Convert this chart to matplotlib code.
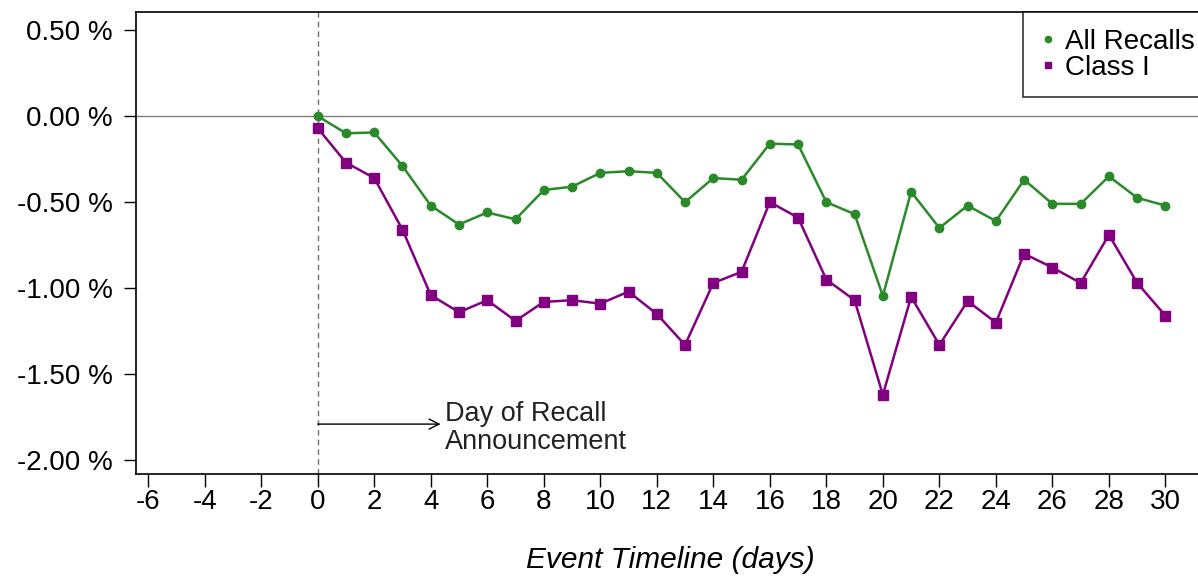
import matplotlib.pyplot as plt
from matplotlib.ticker import FuncFormatter

# data
days = list(range(0, 31))
all_recalls = [0.00, -0.10, -0.095, -0.29, -0.52, -0.63, -0.56, -0.60, -0.43, -0.41,
               -0.33, -0.32, -0.33, -0.50, -0.36, -0.37, -0.16, -0.165, -0.50, -0.57,
               -1.045, -0.44, -0.65, -0.52, -0.61, -0.37, -0.51, -0.51, -0.35, -0.475,
               -0.52]
class_one = [-0.07, -0.27, -0.36, -0.66, -1.04, -1.14, -1.07, -1.19, -1.08, -1.07,
             -1.09, -1.02, -1.15, -1.33, -0.97, -0.905, -0.50, -0.59, -0.95, -1.07,
             -1.62, -1.05, -1.33, -1.075, -1.20, -0.80, -0.88, -0.97, -0.69, -0.97,
             -1.16]
x_ticks = list(range(-6, 31, 2))
y_ticks = [-2.0, -1.5, -1.0, -0.5, 0.0, 0.5]

plt.rcParams['font.family'] = ['Liberation Sans', 'DejaVu Sans']
plt.rcParams['axes.unicode_minus'] = False

fig = plt.figure(figsize=(11.98, 5.77), dpi=100)
ax = fig.add_axes([136 / 1198, 1 - 474 / 577, (1205 - 136) / 1198, (474 - 12) / 577])

ax.axhline(0, color='#808080', lw=1.0, zorder=1)
ax.axvline(0, color='#707070', lw=1.0, ls=(0, (4, 3)), zorder=1)

ax.plot(days, all_recalls, color='#2a8a2a', lw=1.8, marker='o', ms=6,
        label='All Recalls', zorder=3)
ax.plot(days, class_one, color='#800080', lw=1.8, marker='s', ms=6.5,
        label='Class I', zorder=3)

ax.annotate('', xy=(4.35, -1.79), xytext=(0, -1.79),
            arrowprops=dict(arrowstyle='->', color='black', lw=1.0,
                            mutation_scale=18, shrinkA=0, shrinkB=0))
ax.text(4.5, -1.81, 'Day of Recall\nAnnouncement', ha='left', va='center',
        fontsize=19.5, linespacing=1.1, color='#222222')

ax.set_xlim(-6.43, 31.4)
ax.set_ylim(-2.08, 0.605)
ax.set_xticks(x_ticks)
ax.set_yticks(y_ticks)
ax.yaxis.set_major_formatter(FuncFormatter(lambda v, p: f'{v:.2f} %'))
ax.tick_params(axis='both', labelsize=20, length=9, width=1.0, direction='out')
ax.tick_params(axis='x', pad=2)
ax.tick_params(axis='y', pad=8)

for s in ax.spines.values():
    s.set_linewidth(1.2)

ax.set_xlabel('Event Timeline (days)', fontsize=21.5, style='italic', labelpad=22)

leg = ax.legend(loc='upper left', bbox_to_anchor=((1023 - 136) / (1205 - 136), 1.0),
                fontsize=20, frameon=True, fancybox=False, edgecolor='black',
                borderaxespad=0, handlelength=0.6, handletextpad=0.3,
                borderpad=0.6, labelspacing=0.0, markerscale=0.75)
leg.get_frame().set_linewidth(1.2)
for h in leg.legend_handles:
    h.set_linestyle('none')

plt.savefig('out.png', dpi=100)
plt.close()
